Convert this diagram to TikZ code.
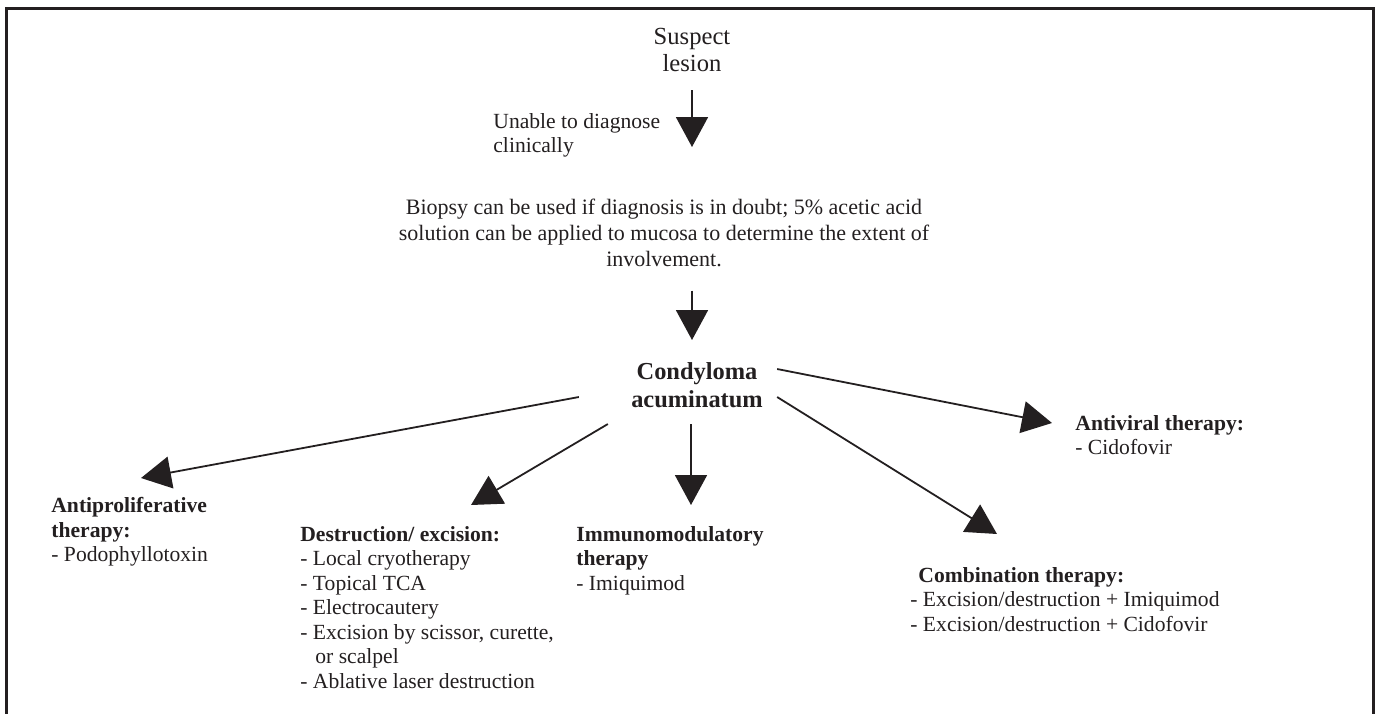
\documentclass[tikz,border=0pt]{standalone}
\usepackage{fontspec}
\setmainfont{Liberation Serif}
\usepackage{xcolor}
\usetikzlibrary{arrows.meta,calc}

\definecolor{ink}{RGB}{35,31,32}

\begin{document}
\begin{tikzpicture}[x=0.5pt,y=-0.5pt,
  every node/.style={inner sep=0pt,text=ink,font=\fontsize{10.8}{12.25}\selectfont},
  toptext/.style={font=\fontsize{12.3}{13.5}\selectfont},
  notetext/.style={font=\fontsize{11}{13}\selectfont},
  headtext/.style={font=\fontsize{12.2}{14}\selectfont\bfseries},
  arr/.style={draw=ink,line width=0.9pt,-{Triangle[length=15pt,width=16pt]}}]
  \useasboundingbox (0,0) rectangle (1381,713);
  % frame, open at the bottom
  \draw[line width=1.5pt,draw=ink] (6.5,740) -- (6.5,8.5) -- (1373,8.5) -- (1373,740);

  \node[toptext,align=center,anchor=north] (suspect) at (692,28) {Suspect\\lesion};
  \node[align=left,anchor=north west] (unable) at (493,113) {Unable to diagnose\\clinically};
  \node[notetext,align=center,anchor=north] (biopsy) at (664,199)
    {Biopsy can be used if diagnosis is in doubt; 5\% acetic acid\\solution can be applied to mucosa to determine the extent of\\involvement.};
  \node[headtext,align=center,anchor=north] (cond) at (697,362) {Condyloma\\acuminatum};

  \node[align=left,anchor=north west] (antiprolif) at (51,497)
    {\textbf{Antiproliferative}\\\textbf{therapy:}\\- Podophyllotoxin};
  \node[align=left,anchor=north west] (destr) at (300,526)
    {\textbf{Destruction/ excision:}\\- Local cryotherapy\\- Topical TCA\\- Electrocautery\\- Excision by scissor, curette,\\\hspace*{7.5pt}or scalpel\\- Ablative laser destruction};
  \node[align=left,anchor=north west] (immuno) at (576,526)
    {\textbf{Immunomodulatory}\\\textbf{therapy}\\- Imiquimod};
  \node[align=left,anchor=north west] (antiviral) at (1075,415)
    {\textbf{Antiviral therapy:}\\- Cidofovir};
  \node[align=left,anchor=north west] (combo) at (910,567)
    {\hspace*{4pt}\textbf{Combination therapy:}\\- Excision/destruction + Imiquimod\\- Excision/destruction + Cidofovir};

  \draw[arr,shorten <=9pt,shorten >=26pt] (suspect.south) -- (suspect.south |- biopsy.north);
  \draw[arr,shorten <=11.5pt,shorten >=11pt] (suspect.south |- biopsy.south) -- (suspect.south |- cond.north);
  \draw[arr,shorten <=8pt,shorten >=10.5pt] ($(cond.south)+(-6,0)$) -- ($(cond.south |- immuno.north)+(-6,0)$);
  \draw[arr] ($(cond.west)+(-52,12)$) -- ($(antiprolif.north west)+(90,-19)$);
  \draw[arr] ($(cond.south west)+(-23,16)$) -- ($(destr.north west)+(171,-21)$);
  \draw[arr] ($(cond.east)+(14,-16)$) -- ($(antiviral.north west)+(-23,8)$);
  \draw[arr] ($(cond.east)+(14,12)$) -- ($(combo.north west)+(87,-33)$);
\end{tikzpicture}
\end{document}
